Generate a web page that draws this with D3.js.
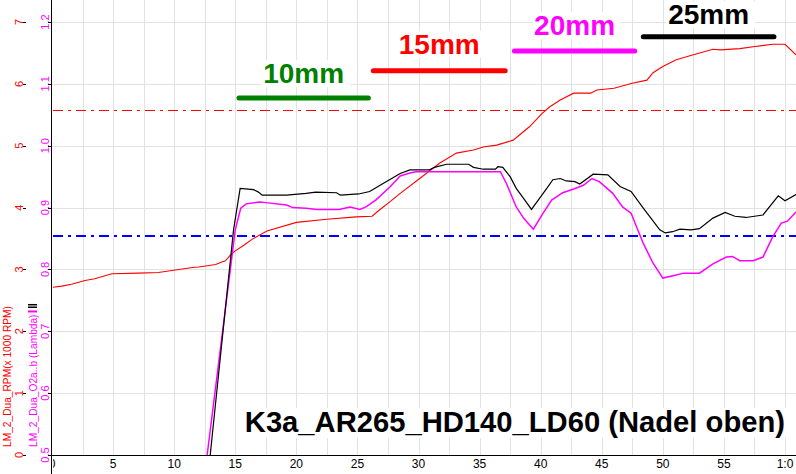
<!DOCTYPE html>
<html><head><meta charset="utf-8">
<script src="https://cdn.jsdelivr.net/npm/d3@7"></script>
<style>html,body{margin:0;padding:0;background:#fff;overflow:hidden}</style>
</head><body><svg id="c" width="796" height="474"></svg>
<script>
// ---- data ----
const xTickValues = [0,5,10,15,20,25,30,35,40,45,50,55,60];
const xTickLabels = ["0","5","10","15","20","25","30","35","40","45","50","55","1:0"];
const xGridValues = d3.range(2.5, 61, 2.5);
const lambdaTicks = [0.5,0.6,0.7,0.8,0.9,1.0,1.1,1.2];
const lambdaTickLabels = ["0.5","0.6","0.7","0.8","0.9","1.0","1.1","1.2"];
const rpmTicks = [0,1,2,3,4,5,6,7];
const rpmTickLabels = ["0","1","2","3","4","5","6","7"];

const rpmRef = 5.58;      // x1000 RPM
const lambdaRef = 0.854;  // Lambda

const rpmSeries = [
 [0,2.71],[0.8,2.73],[1.6,2.76],[2.7,2.82],[3.5,2.85],[4.9,2.93],[7.1,2.94],[8.7,2.95],
 [10.1,2.99],[11.5,3.03],[12,3.04],[13.4,3.08],[13.9,3.12],[14.2,3.14],[14.6,3.23],[15,3.30],
 [15.7,3.39],[16.4,3.49],[17.6,3.62],[20,3.76],[22.5,3.81],[24.9,3.85],[26.2,3.86],[26.8,3.96],
 [27.7,4.10],[28.5,4.23],[30.1,4.47],[31.75,4.72],[33.1,4.88],[34.5,4.93],[35.3,4.98],[36.4,5.01],
 [37.75,5.09],[39.1,5.31],[40.1,5.52],[40.75,5.63],[41.6,5.74],[42.7,5.85],[44.1,5.85],[44.6,5.90],
 [46,5.93],[47.5,6.01],[48.7,6.06],[49.2,6.18],[50,6.28],[51.1,6.39],[52.5,6.47],[54.1,6.56],
 [54.7,6.55],[56.3,6.57],[57.4,6.60],[59,6.64],[60,6.64],[60.9,6.47]
];
const o2aSeries = [
 [12.7,0.50],[15.0,0.864],[15.45,0.899],[15.9,0.906],[17.0,0.909],[17.5,0.908],[19.2,0.904],
 [19.7,0.900],[20.8,0.899],[21.7,0.897],[23.5,0.897],[24.4,0.901],[25.2,0.897],[25.7,0.901],
 [26.5,0.912],[27.7,0.934],[28.5,0.951],[29.3,0.956],[29.8,0.958],[36.7,0.958],[37.2,0.939],
 [38.0,0.901],[38.6,0.883],[39.4,0.865],[40.2,0.891],[40.9,0.912],[41.8,0.924],[42.7,0.930],
 [43.5,0.936],[44.2,0.947],[44.8,0.942],[45.9,0.923],[46.7,0.901],[47.4,0.891],[48.4,0.842],
 [49.2,0.810],[50.0,0.786],[51.1,0.791],[51.7,0.794],[53.0,0.794],[54.1,0.809],[55.2,0.820],
 [55.7,0.821],[56.3,0.814],[57.4,0.814],[58.2,0.820],[59.0,0.853],[59.7,0.875],[60.2,0.878],[60.9,0.893]
];
const o2bSeries = [
 [12.95,0.50],[14.86,0.864],[15.4,0.931],[16.5,0.929],[16.9,0.925],[17.2,0.920],[19.2,0.920],
 [20.8,0.923],[21.6,0.925],[23.3,0.924],[23.6,0.920],[25.1,0.922],[26.0,0.926],[27.1,0.939],
 [28.5,0.955],[29.3,0.961],[30.9,0.961],[31.3,0.965],[32.3,0.970],[34.1,0.970],[34.5,0.965],
 [35.3,0.962],[36.3,0.962],[36.5,0.966],[36.9,0.965],[37.5,0.950],[38.0,0.931],[38.6,0.915],
 [39.25,0.897],[39.8,0.912],[40.5,0.931],[41.0,0.945],[41.6,0.947],[42.1,0.943],[42.8,0.942],
 [43.2,0.938],[44.3,0.954],[45.5,0.953],[46.5,0.934],[47.4,0.926],[48.4,0.899],[49.75,0.864],
 [50.2,0.859],[50.8,0.861],[51.4,0.865],[52.3,0.864],[53.0,0.866],[54.1,0.883],[55.1,0.892],
 [55.9,0.886],[56.8,0.884],[58.2,0.888],[59.45,0.919],[60.0,0.911],[60.9,0.921]
];

const annoLabels = ["10mm","15mm","20mm","25mm"];
const annoStart  = [15.1, 26.1, 37.65, 48.2];
const annoEnd    = [26.1, 37.3, 47.9, 59.3];
const annoLevel  = [1.077, 1.121, 1.153, 1.176];   // bar level (Lambda)
const annoTextLevel = [1.101, 1.149, 1.179, 1.196]; // label baseline (Lambda)
const annoColors = ["#008000","#ff0000","#ff00ff","#000000"];

const titleText = "K3a_AR265_HD140_LD60 (Nadel oben)";

// ---- layout ----
const W = 796, H = 474;
const L = 52, R = 796, T = 0, B = 455;
const svg = d3.select("#c");
const x = d3.scaleLinear().domain([0, 60.9]).range([L, R]);
const yL = d3.scaleLinear().domain([0.5, 1.2]).range([B, 22]);
const yR = d3.scaleLinear().domain([0, 7]).range([B, 22]);
const font = "'Liberation Sans', Arial, sans-serif";

svg.append("rect").attr("width", W).attr("height", H).attr("fill", "#fff");

svg.append("defs").append("clipPath").attr("id","plot")
  .append("rect").attr("x", L+1).attr("y", T).attr("width", R-L).attr("height", B-T);
svg.select("defs").append("clipPath").attr("id","xlab")
  .append("rect").attr("x", L+1).attr("y", B).attr("width", R-L).attr("height", H-B);

// grid
const grid = svg.append("g").attr("stroke", "#e2e2e2").attr("stroke-width", 1);
grid.selectAll("line.v").data(xGridValues).join("line")
  .attr("x1", d => Math.round(x(d)) + 0.5).attr("x2", d => Math.round(x(d)) + 0.5)
  .attr("y1", T).attr("y2", B);
grid.selectAll("line.h").data(lambdaTicks.slice(1)).join("line")
  .attr("x1", L).attr("x2", R)
  .attr("y1", d => Math.round(yL(d)) + 0.5).attr("y2", d => Math.round(yL(d)) + 0.5);

// reference lines
svg.append("line").attr("x1", L+1).attr("x2", R)
  .attr("y1", Math.round(yR(rpmRef))+0.5).attr("y2", Math.round(yR(rpmRef))+0.5)
  .attr("stroke", "#ff0000").attr("stroke-width", 1).attr("stroke-dasharray", "10,5,3,5");
svg.append("line").attr("x1", L+1).attr("x2", R)
  .attr("y1", Math.round(yL(lambdaRef))).attr("y2", Math.round(yL(lambdaRef)))
  .attr("stroke", "#0000ff").attr("stroke-width", 2).attr("stroke-dasharray", "10,5,3,5");

// series
const plot = svg.append("g").attr("clip-path", "url(#plot)");
const lineR = d3.line().x(d => x(d[0])).y(d => yR(d[1]));
const lineL = d3.line().x(d => x(d[0])).y(d => yL(d[1]));
plot.append("path").attr("d", lineR(rpmSeries)).attr("fill","none").attr("stroke","#ff0000").attr("stroke-width",1.1);
plot.append("path").attr("d", lineL(o2aSeries)).attr("fill","none").attr("stroke","#ff00ff").attr("stroke-width",1.5);
plot.append("path").attr("d", lineL(o2bSeries)).attr("fill","none").attr("stroke","#000000").attr("stroke-width",1.2);

// annotation bars & labels
const anno = svg.append("g");
annoLabels.forEach((lab, i) => {
  anno.append("line")
    .attr("x1", x(annoStart[i]) + 2.5).attr("x2", x(annoEnd[i]) - 2.5)
    .attr("y1", yL(annoLevel[i])).attr("y2", yL(annoLevel[i]))
    .attr("stroke", annoColors[i]).attr("stroke-width", 5).attr("stroke-linecap", "round");
  const cx = (x(annoStart[i]) + x(annoEnd[i])) / 2;
  const g = anno.append("g");
  const t = g.append("text").attr("x", cx).attr("y", yL(annoTextLevel[i]))
    .attr("text-anchor", "middle").attr("font-family", font).attr("font-weight", "bold")
    .attr("font-size", 28).attr("fill", annoColors[i]).text(lab);
  const bb = t.node().getBBox();
  g.insert("rect", "text").attr("x", bb.x - 2).attr("y", bb.y + 2).attr("width", bb.width + 8)
    .attr("height", bb.height - 4).attr("fill", "#fff");
});

// title
const tg = svg.append("g");
const tt = tg.append("text").attr("x", 785).attr("y", 432).attr("text-anchor", "end")
  .attr("font-family", font).attr("font-weight", "bold").attr("font-size", 29.2)
  .attr("fill", "#000").text(titleText);
const tb = tt.node().getBBox();
tg.insert("rect", "text").attr("x", tb.x - 3).attr("y", tb.y + 2).attr("width", tb.width + 6)
  .attr("height", tb.height - 2).attr("fill", "#fff");

// axes lines
svg.append("line").attr("x1", L - 0.5).attr("x2", L - 0.5).attr("y1", 0).attr("y2", H)
  .attr("stroke", "#000").attr("stroke-width", 1);
svg.append("line").attr("x1", L).attr("x2", R).attr("y1", B + 0.5).attr("y2", B + 0.5)
  .attr("stroke", "#000").attr("stroke-width", 1);

// x tick labels
svg.append("g").attr("clip-path", "url(#xlab)").selectAll("text").data(xTickValues).join("text")
  .attr("x", d => x(d)).attr("y", 468).attr("text-anchor", "middle")
  .attr("font-family", font).attr("font-size", 12).attr("fill", "#000")
  .text((d, i) => xTickLabels[i]);

// left y axes (rotated labels)
const ly = svg.append("g");
ly.selectAll("text.l").data(lambdaTicks).join("text")
  .attr("transform", d => `translate(48.5,${yL(d)}) rotate(-90)`)
  .attr("text-anchor", "middle").attr("font-family", font).attr("font-size", 11)
  .attr("fill", "#ff00ff").text((d, i) => lambdaTickLabels[i]);
ly.selectAll("line.l").data(lambdaTicks).join("line")
  .attr("x1", 48).attr("x2", 51).attr("y1", d => Math.round(yL(d)) + 0.5).attr("y2", d => Math.round(yL(d)) + 0.5)
  .attr("stroke", "#000");
const ry = svg.append("g");
ry.selectAll("text").data(rpmTicks).join("text")
  .attr("transform", d => `translate(22.5,${yR(d)}) rotate(-90)`)
  .attr("text-anchor", "middle").attr("font-family", font).attr("font-size", 11)
  .attr("fill", "#ff0000").text((d, i) => rpmTickLabels[i]);
ry.selectAll("line").data(rpmTicks).join("line")
  .attr("x1", 23).attr("x2", 26).attr("y1", d => Math.round(yR(d)) + 0.5).attr("y2", d => Math.round(yR(d)) + 0.5)
  .attr("stroke", "#000");

// axis titles
svg.append("text").attr("transform", "translate(11,447) rotate(-90)")
  .attr("font-family", font).attr("font-size", 10.2).attr("fill", "#ff0000")
  .text("LM_2_Dua_RPM(x 1000 RPM)");
const lt = svg.append("text").attr("transform", "translate(36.5,447) rotate(-90)")
  .attr("font-family", font).attr("font-size", 10.2).attr("fill", "#ff00ff")
  .text("LM_2_Dua_O2a..b (Lambda)");
const lw = lt.node().getComputedTextLength();
svg.append("rect").attr("x", 28).attr("y", 447 - lw - 4).attr("width", 9).attr("height", 2).attr("fill", "#ff00ff");
svg.append("rect").attr("x", 28).attr("y", 447 - lw - 8).attr("width", 9).attr("height", 1.5).attr("fill", "#000");
svg.append("rect").attr("x", 28).attr("y", 447 - lw - 10.5).attr("width", 9).attr("height", 1.5).attr("fill", "#000");
</script>
</body></html>
